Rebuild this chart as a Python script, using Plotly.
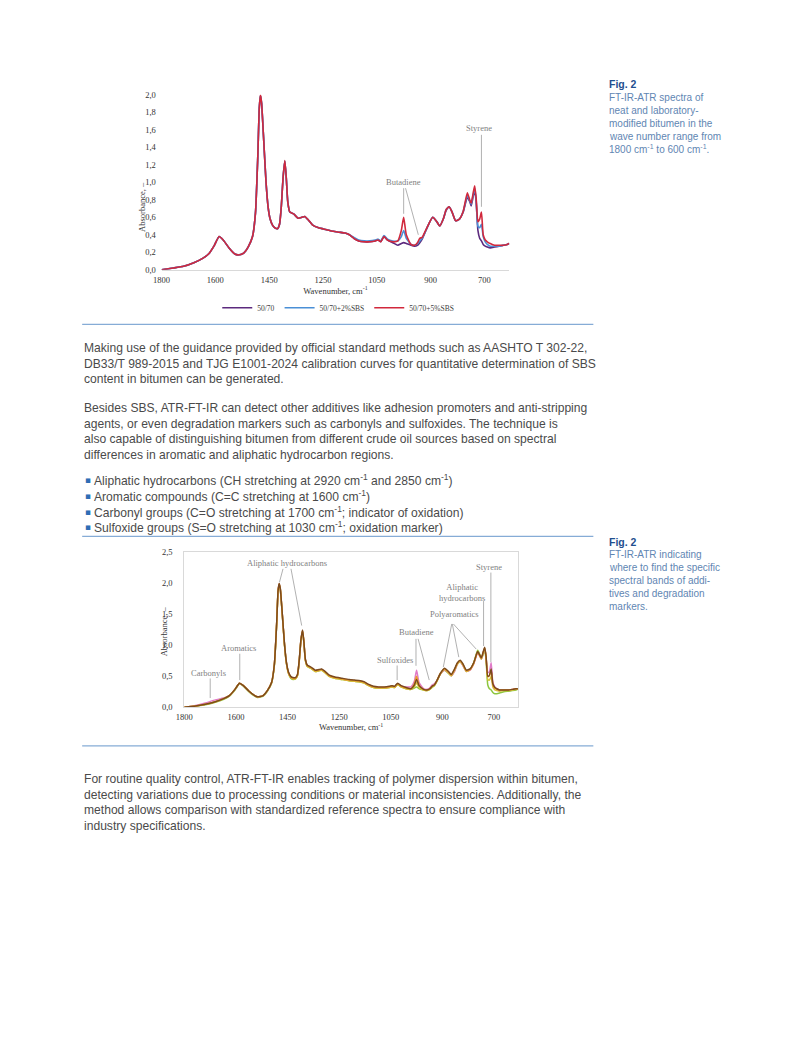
import plotly.graph_objects as go

# ---------------- data ----------------
wavenumber = [1800, 1760, 1725, 1690, 1660, 1640, 1620, 1604, 1590, 1570,
              1550, 1540, 1530, 1520, 1505, 1490, 1480, 1472, 1467, 1463,
              1459, 1453, 1444, 1437, 1430, 1422, 1414, 1405, 1398, 1392,
              1386, 1380, 1375, 1370, 1363, 1350, 1335, 1322, 1312, 1300,
              1285, 1265, 1240, 1215, 1195, 1175, 1160, 1145, 1128, 1110,
              1090, 1072, 1062, 1053, 1042, 1030, 1012, 995, 983, 975,
              966, 950, 938, 928, 920, 912, 903, 890, 876, 862,
              852, 840, 830, 820, 810, 798, 785, 772, 758, 750,
              745, 738, 733, 728, 722, 716, 710, 704, 697, 690,
              680, 665, 650, 635, 622, 615]

# Fig. 2 (top): neat and SBS-modified bitumen
abs_5070 = [0.00, 0.02, 0.04, 0.08, 0.13, 0.18, 0.28, 0.38, 0.34, 0.25,
            0.18, 0.17, 0.175, 0.19, 0.26, 0.38, 0.65, 1.30, 1.85, 1.99,
            1.90, 1.55, 1.00, 0.72, 0.58, 0.51, 0.48, 0.47, 0.52, 0.72,
            1.05, 1.24, 1.05, 0.78, 0.66, 0.64, 0.59, 0.60, 0.61, 0.57,
            0.51, 0.48, 0.46, 0.44, 0.43, 0.42, 0.40, 0.36, 0.33, 0.32,
            0.32, 0.33, 0.34, 0.32, 0.38, 0.34, 0.31, 0.28, 0.30, 0.31,
            0.30, 0.28, 0.27, 0.28, 0.31, 0.35, 0.42, 0.52, 0.60, 0.55,
            0.50, 0.58, 0.68, 0.72, 0.66, 0.56, 0.58, 0.66, 0.83, 0.78,
            0.73, 0.84, 0.91, 0.78, 0.45, 0.36, 0.33, 0.29, 0.27, 0.26,
            0.25, 0.26, 0.27, 0.28, 0.29, 0.30]
abs_5070_2sbs = [0.00, 0.02, 0.04, 0.08, 0.13, 0.18, 0.28, 0.38, 0.34, 0.25,
                 0.18, 0.17, 0.175, 0.19, 0.26, 0.38, 0.65, 1.30, 1.85, 1.99,
                 1.90, 1.55, 1.00, 0.72, 0.58, 0.51, 0.48, 0.47, 0.52, 0.72,
                 1.05, 1.24, 1.05, 0.78, 0.66, 0.64, 0.59, 0.60, 0.61, 0.57,
                 0.51, 0.48, 0.46, 0.44, 0.43, 0.42, 0.40, 0.37, 0.34, 0.33,
                 0.33, 0.34, 0.35, 0.33, 0.39, 0.35, 0.33, 0.33, 0.38, 0.45,
                 0.36, 0.29, 0.28, 0.30, 0.33, 0.36, 0.42, 0.52, 0.60, 0.55,
                 0.50, 0.58, 0.69, 0.72, 0.66, 0.56, 0.58, 0.67, 0.85, 0.79,
                 0.75, 0.86, 0.93, 0.80, 0.50, 0.48, 0.52, 0.38, 0.32, 0.29,
                 0.27, 0.27, 0.27, 0.28, 0.29, 0.30]
abs_5070_5sbs = [0.00, 0.02, 0.04, 0.08, 0.13, 0.18, 0.28, 0.38, 0.34, 0.25,
                 0.18, 0.17, 0.175, 0.19, 0.26, 0.38, 0.65, 1.30, 1.85, 2.00,
                 1.90, 1.55, 1.00, 0.72, 0.58, 0.51, 0.48, 0.47, 0.52, 0.72,
                 1.05, 1.25, 1.05, 0.78, 0.66, 0.64, 0.59, 0.60, 0.61, 0.57,
                 0.51, 0.48, 0.46, 0.44, 0.43, 0.42, 0.40, 0.36, 0.33, 0.32,
                 0.32, 0.33, 0.34, 0.32, 0.38, 0.34, 0.32, 0.33, 0.45, 0.60,
                 0.40, 0.29, 0.28, 0.31, 0.36, 0.37, 0.43, 0.52, 0.60, 0.55,
                 0.50, 0.58, 0.69, 0.72, 0.66, 0.56, 0.58, 0.67, 0.88, 0.80,
                 0.76, 0.88, 0.96, 0.82, 0.55, 0.58, 0.66, 0.40, 0.34, 0.32,
                 0.30, 0.28, 0.28, 0.28, 0.29, 0.30]
series1_names = ["50/70", "50/70+2%SBS", "50/70+5%SBS"]

# Fig. 2 (bottom): spectra with marked bands
abs2_green = [0.00, 0.02, 0.04, 0.08, 0.13, 0.18, 0.28, 0.38, 0.34, 0.25,
              0.18, 0.16, 0.165, 0.18, 0.26, 0.39, 0.68, 1.33, 1.86, 1.98,
              1.90, 1.56, 1.00, 0.70, 0.55, 0.47, 0.45, 0.46, 0.51, 0.73,
              1.06, 1.23, 1.03, 0.76, 0.66, 0.63, 0.58, 0.59, 0.60, 0.56,
              0.50, 0.47, 0.45, 0.43, 0.42, 0.41, 0.39, 0.35, 0.32, 0.31,
              0.31, 0.32, 0.33, 0.32, 0.37, 0.33, 0.30, 0.29, 0.31, 0.33,
              0.30, 0.28, 0.27, 0.29, 0.32, 0.35, 0.42, 0.54, 0.60, 0.55,
              0.51, 0.59, 0.70, 0.73, 0.68, 0.58, 0.61, 0.72, 0.92, 0.85,
              0.78, 0.86, 0.93, 0.76, 0.36, 0.30, 0.28, 0.24, 0.22, 0.22,
              0.23, 0.25, 0.26, 0.27, 0.28, 0.29]
abs2_pink = [0.00, 0.03, 0.07, 0.12, 0.15, 0.19, 0.29, 0.39, 0.35, 0.26,
             0.19, 0.17, 0.175, 0.19, 0.27, 0.40, 0.70, 1.35, 1.87, 1.99,
             1.91, 1.57, 1.01, 0.71, 0.56, 0.49, 0.47, 0.47, 0.52, 0.74,
             1.07, 1.24, 1.04, 0.77, 0.67, 0.64, 0.59, 0.60, 0.61, 0.57,
             0.51, 0.48, 0.46, 0.44, 0.43, 0.42, 0.40, 0.36, 0.33, 0.32,
             0.32, 0.33, 0.34, 0.33, 0.38, 0.34, 0.33, 0.33, 0.42, 0.60,
             0.40, 0.30, 0.29, 0.31, 0.36, 0.38, 0.43, 0.54, 0.60, 0.56,
             0.51, 0.58, 0.70, 0.74, 0.67, 0.58, 0.60, 0.70, 0.88, 0.82,
             0.78, 0.88, 0.95, 0.80, 0.56, 0.58, 0.72, 0.40, 0.33, 0.30,
             0.28, 0.28, 0.28, 0.29, 0.30, 0.30]
abs2_yellow = [0.00, 0.02, 0.05, 0.09, 0.14, 0.19, 0.29, 0.39, 0.35, 0.26,
               0.19, 0.17, 0.175, 0.19, 0.27, 0.40, 0.69, 1.34, 1.86, 1.98,
               1.90, 1.56, 1.00, 0.70, 0.55, 0.48, 0.46, 0.46, 0.51, 0.73,
               1.06, 1.23, 1.03, 0.76, 0.66, 0.63, 0.58, 0.59, 0.60, 0.56,
               0.50, 0.47, 0.45, 0.43, 0.42, 0.41, 0.39, 0.35, 0.32, 0.31,
               0.31, 0.32, 0.33, 0.32, 0.37, 0.33, 0.30, 0.29, 0.33, 0.40,
               0.32, 0.28, 0.27, 0.29, 0.33, 0.35, 0.42, 0.54, 0.61, 0.56,
               0.51, 0.60, 0.70, 0.74, 0.68, 0.58, 0.61, 0.71, 0.90, 0.83,
               0.78, 0.88, 0.95, 0.80, 0.45, 0.44, 0.50, 0.33, 0.28, 0.27,
               0.26, 0.27, 0.27, 0.28, 0.29, 0.30]
abs2_orange = [0.00, 0.02, 0.05, 0.09, 0.14, 0.19, 0.29, 0.39, 0.35, 0.26,
               0.19, 0.17, 0.175, 0.19, 0.27, 0.40, 0.70, 1.35, 1.87, 1.99,
               1.91, 1.57, 1.01, 0.71, 0.56, 0.49, 0.47, 0.47, 0.52, 0.74,
               1.07, 1.24, 1.04, 0.77, 0.67, 0.64, 0.59, 0.60, 0.61, 0.57,
               0.51, 0.48, 0.46, 0.44, 0.43, 0.42, 0.40, 0.36, 0.33, 0.32,
               0.32, 0.33, 0.34, 0.33, 0.38, 0.34, 0.31, 0.30, 0.38, 0.50,
               0.36, 0.29, 0.28, 0.30, 0.34, 0.36, 0.43, 0.55, 0.62, 0.57,
               0.52, 0.61, 0.71, 0.75, 0.69, 0.59, 0.61, 0.71, 0.89, 0.83,
               0.79, 0.89, 0.96, 0.81, 0.50, 0.51, 0.60, 0.37, 0.31, 0.29,
               0.28, 0.28, 0.28, 0.29, 0.30, 0.30]
abs2_brown = [0.00, 0.02, 0.05, 0.09, 0.14, 0.19, 0.29, 0.39, 0.35, 0.26,
              0.19, 0.17, 0.175, 0.19, 0.27, 0.40, 0.70, 1.35, 1.88, 2.00,
              1.92, 1.58, 1.02, 0.72, 0.57, 0.50, 0.48, 0.48, 0.53, 0.75,
              1.08, 1.25, 1.05, 0.78, 0.68, 0.65, 0.60, 0.61, 0.62, 0.58,
              0.52, 0.49, 0.47, 0.45, 0.44, 0.43, 0.41, 0.37, 0.34, 0.33,
              0.33, 0.34, 0.35, 0.34, 0.39, 0.35, 0.32, 0.30, 0.36, 0.45,
              0.35, 0.29, 0.28, 0.30, 0.34, 0.36, 0.43, 0.55, 0.63, 0.58,
              0.53, 0.62, 0.72, 0.76, 0.70, 0.60, 0.62, 0.72, 0.90, 0.84,
              0.80, 0.90, 0.97, 0.82, 0.50, 0.52, 0.62, 0.38, 0.32, 0.30,
              0.28, 0.28, 0.28, 0.29, 0.30, 0.30]

# category-style tick labels, evenly spaced along the axis
tick_labels = ["1800", "1600", "1450", "1250", "1050", "900", "700"]
tick_positions = [1800, 1616.7, 1433.3, 1250, 1066.7, 883.3, 700]

# ---------------- page geometry helpers ----------------
W, H = 800, 1062


def fx(p):
    return p / W


def fy(p):
    return 1 - p / H


SERIF = "Liberation Serif"
SANS = "Liberation Sans"
BODY = "#4a4a4a"
CAP = "#5f86b3"
FIGBLUE = "#1f4f8f"
RULE = "#86acd6"
LEFT = 74

fig = go.Figure()

# ---- chart 1 traces ----
for ys, name, col in zip([abs_5070, abs_5070_2sbs, abs_5070_5sbs], series1_names,
                         ["#5c2a7e", "#4a8fd6", "#d1283c"]):
    fig.add_trace(go.Scatter(x=wavenumber, y=ys, name=name, mode="lines",
                             line=dict(color=col, width=1.6, shape="spline", smoothing=0.5),
                             xaxis="x", yaxis="y"))

# ---- chart 2 traces ----
for ys, col in zip([abs2_green, abs2_pink, abs2_yellow, abs2_orange, abs2_brown],
                   ["#8dc63f", "#e07ac8", "#d9c23a", "#ec9a2e", "#7a4a1e"]):
    fig.add_trace(go.Scatter(x=wavenumber, y=ys, mode="lines", showlegend=False,
                             line=dict(color=col, width=1.5, shape="spline", smoothing=0.5),
                             xaxis="x2", yaxis="y2"))

tickfont = dict(family=SERIF, size=8.5, color="#333333")
axfont = dict(family=SERIF, size=8.5, color="#333333")
NOTICK = "rgba(0,0,0,0)"

fig.update_layout(
    width=W, height=H,
    margin=dict(l=0, r=0, t=0, b=0),
    paper_bgcolor="white", plot_bgcolor="white",
    separators=",.",
    showlegend=True,
    legend=dict(orientation="h", x=fx(333), y=fy(291), xanchor="center", yanchor="top",
                font=dict(family=SERIF, size=7.5, color="#404040"),
                itemwidth=30, bgcolor="rgba(0,0,0,0)"),
    xaxis=dict(domain=[fx(154.3), fx(506)], range=[1800, 615], tickvals=tick_positions,
               ticktext=tick_labels, showgrid=False, zeroline=False, showline=True,
               linecolor="#d9d9d9", linewidth=1, ticks="outside", ticklen=2,
               tickcolor=NOTICK, tickfont=tickfont, anchor="y",
               title=dict(text="Wavenumber, cm<sup>-1</sup>", font=axfont, standoff=2)),
    yaxis=dict(domain=[fy(267.3), fy(90.7)], range=[0, 2.0], dtick=0.2, tickformat=".1f",
               showgrid=False, zeroline=False, showline=False, ticks="outside", ticklen=3,
               tickcolor=NOTICK, tickfont=tickfont, anchor="x"),
    xaxis2=dict(domain=[fx(177.3), fx(514.7)], range=[1800, 615], tickvals=tick_positions,
                ticktext=tick_labels, showgrid=False, zeroline=False, showline=True,
                mirror=True, linecolor="#d9d9d9", linewidth=1, ticks="outside", ticklen=1,
                tickcolor=NOTICK, tickfont=tickfont, anchor="y2",
                title=dict(text="Wavenumber, cm<sup>-1</sup>", font=axfont, standoff=2)),
    yaxis2=dict(domain=[fy(709), fy(552.7)], range=[0, 2.5], dtick=0.5, tickformat=".1f",
                showgrid=False, zeroline=False, showline=True, mirror=True,
                linecolor="#d9d9d9", linewidth=1, ticks="outside", ticklen=9,
                tickcolor=NOTICK, tickfont=tickfont, anchor="x2"),
)

ann = []

# y-axis titles
ann.append(dict(text="Absorbance, –", x=fx(128), y=fy(177), xref="paper", yref="paper",
                textangle=-90, showarrow=False, font=axfont))
ann.append(dict(text="Absorbance, –", x=fx(150), y=fy(632), xref="paper", yref="paper",
                textangle=-90, showarrow=False, font=axfont))

labfont = dict(family=SERIF, size=8.5, color="#7f7f7f")
LEAD = "#a8a8a8"


def label(text, x, y, xa, ya):
    ann.append(dict(text=text, x=x, y=y, xref=xa, yref=ya, showarrow=False, font=labfont))


def leader(x0, y0, x1, y1, xa, ya):
    ann.append(dict(text="", x=x1, y=y1, ax=x0, ay=y0, xref=xa, yref=ya, axref=xa, ayref=ya,
                    showarrow=True, arrowhead=0, arrowwidth=0.9, arrowcolor=LEAD,
                    standoff=0, startstandoff=0))


# chart 1 band labels
label("Butadiene", 974, 1.00, "x", "y")
leader(975, 0.95, 975, 0.64, "x", "y")
leader(970, 0.95, 925, 0.40, "x", "y")
label("Styrene", 717, 1.62, "x", "y")
leader(710, 1.56, 710, 0.72, "x", "y")

# chart 2 band labels
label("Aliphatic hydrocarbons", 1434, 2.33, "x2", "y2")
leader(1448, 2.26, 1462, 2.02, "x2", "y2")
leader(1422, 2.26, 1383, 1.32, "x2", "y2")
label("Aromatics", 1607, 0.955, "x2", "y2")
leader(1603, 0.89, 1603, 0.44, "x2", "y2")
label("Carbonyls", 1714, 0.56, "x2", "y2")
leader(1708, 0.49, 1708, 0.15, "x2", "y2")
label("Sulfoxides", 1053, 0.77, "x2", "y2")
leader(1044, 0.70, 1044, 0.44, "x2", "y2")
label("Butadiene", 975, 1.21, "x2", "y2")
leader(977, 1.13, 977, 0.67, "x2", "y2")
leader(971, 1.13, 930, 0.44, "x2", "y2")
label("Polyaromatics", 840, 1.50, "x2", "y2")
leader(849, 1.37, 880, 0.65, "x2", "y2")
leader(849, 1.37, 825, 0.81, "x2", "y2")
leader(849, 1.37, 763, 0.94, "x2", "y2")
label("Aliphatic<br>hydrocarbons", 812, 1.86, "x2", "y2")
leader(737, 1.74, 737, 0.99, "x2", "y2")
label("Styrene", 716, 2.27, "x2", "y2")
leader(711, 2.20, 711, 0.73, "x2", "y2")

# captions (one text per line for exact spacing)
CAPX = 605
capfont = dict(family=SANS, size=10, color=CAP)
figfont = dict(family=SANS, size=10.5, color=FIGBLUE)
caption1 = ["FT-IR-ATR spectra of", "neat and laboratory-", "modified bitumen in the",
            "wave number range from", "1800 cm<sup>-1</sup> to 600 cm<sup>-1</sup>."]
caption2 = ["FT-IR-ATR indicating", "where to find the specific", "spectral bands of addi-",
            "tives and degradation", "markers."]
for y_fig, first_line, lines in [(80, 93.5, caption1), (542, 555, caption2)]:
    ann.append(dict(text="<b>Fig. 2</b>", x=fx(CAPX), y=fy(y_fig), xref="paper",
                    yref="paper", xanchor="left", yanchor="middle", showarrow=False,
                    font=figfont))
    for i, ln in enumerate(lines):
        ann.append(dict(text=ln, x=fx(CAPX), y=fy(first_line + 13 * i), xref="paper",
                        yref="paper", xanchor="left", yanchor="middle", showarrow=False,
                        font=capfont))

# body text
bodyfont = dict(family=SANS, size=12.1, color=BODY)
paragraphs = [
    (337, "Making use of the guidance provided by official standard methods such as AASHTO T 302-22,<br>"
          "DB33/T 989-2015 and TJG E1001-2024 calibration curves for quantitative determination of SBS<br>"
          "content in bitumen can be generated."),
    (398, "Besides SBS, ATR-FT-IR can detect other additives like adhesion promoters and anti-stripping<br>"
          "agents, or even degradation markers such as carbonyls and sulfoxides. The technique is<br>"
          "also capable of distinguishing bitumen from different crude oil sources based on spectral<br>"
          "differences in aromatic and aliphatic hydrocarbon regions."),
    (772, "For routine quality control, ATR-FT-IR enables tracking of polymer dispersion within bitumen,<br>"
          "detecting variations due to processing conditions or material inconsistencies. Additionally, the<br>"
          "method allows comparison with standardized reference spectra to ensure compliance with<br>"
          "industry specifications."),
]
for top, txt in paragraphs:
    ann.append(dict(text=txt, x=fx(LEFT), y=fy(top), xref="paper", yref="paper", xanchor="left",
                    yanchor="top", align="left", showarrow=False, font=bodyfont))

bullets = [
    "Aliphatic hydrocarbons (CH stretching at 2920 cm<sup>-1</sup> and 2850 cm<sup>-1</sup>)",
    "Aromatic compounds (C=C stretching at 1600 cm<sup>-1</sup>)",
    "Carbonyl groups (C=O stretching at 1700 cm<sup>-1</sup>; indicator of oxidation)",
    "Sulfoxide groups (S=O stretching at 1030 cm<sup>-1</sup>; oxidation marker)",
]
for i, b in enumerate(bullets):
    yc = 480 + i * 15.8
    ann.append(dict(text="▪", x=fx(LEFT + 1), y=fy(yc), xref="paper", yref="paper",
                    xanchor="left", yanchor="middle", showarrow=False,
                    font=dict(family="DejaVu Sans", size=9, color="#2f6db5")))
    ann.append(dict(text=b, x=fx(LEFT + 10), y=fy(yc), xref="paper", yref="paper",
                    xanchor="left", yanchor="middle", showarrow=False, font=bodyfont))

fig.update_layout(annotations=ann)

# horizontal rules
shapes = []
for yy in [322.5, 536.5, 748]:
    shapes.append(dict(type="line", xref="paper", yref="paper", x0=fx(LEFT), x1=fx(591),
                       y0=fy(yy), y1=fy(yy), line=dict(color=RULE, width=1.3)))
fig.update_layout(shapes=shapes)

fig.write_html("out.html", config={"displayModeBar": False},
               post_script="document.body.style.margin='0px';document.body.style.overflow='hidden';")
